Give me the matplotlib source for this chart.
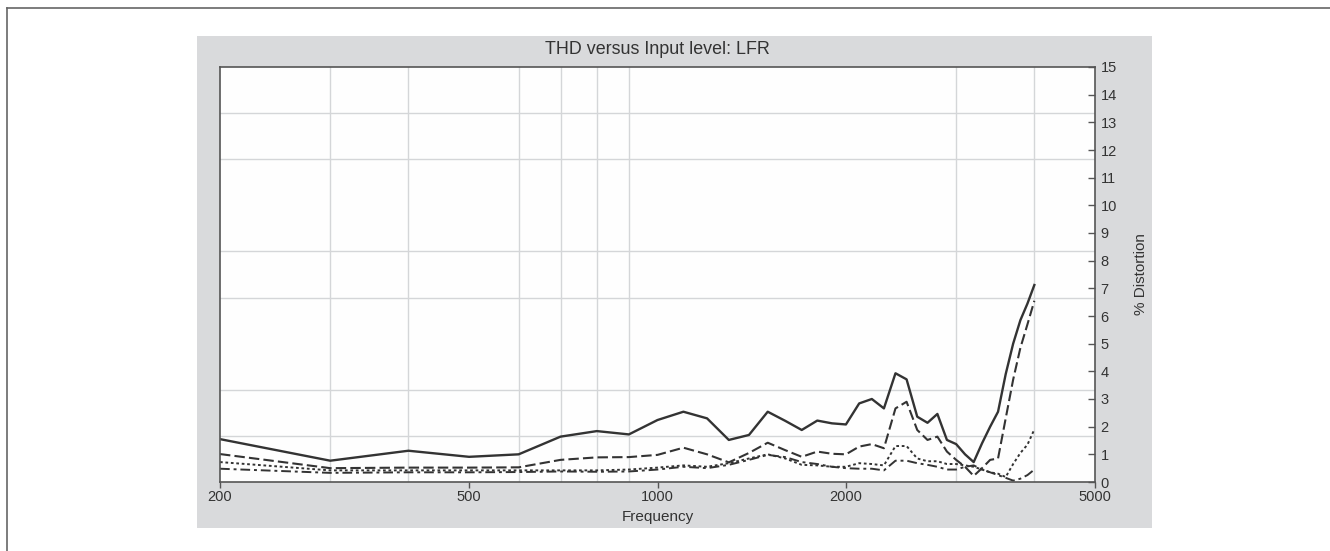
import matplotlib
matplotlib.use("Agg")
import matplotlib.pyplot as plt
import numpy as np
from matplotlib.lines import Line2D
from matplotlib.patches import Rectangle
from matplotlib.ticker import FixedLocator, NullFormatter

plt.rcParams["font.family"] = ["Liberation Sans", "DejaVu Sans"]

# measurement frequencies (Hz), 100 Hz steps from 200 to 4000
freq = list(range(200, 4001, 100))

thd_level1 = [1.55, 0.77, 1.13, 0.91, 1.00, 1.64, 1.84, 1.72, 2.24, 2.54,
              2.30, 1.52, 1.70, 2.54, 2.21, 1.88, 2.22, 2.12, 2.08, 2.84,
              3.00, 2.66, 3.93, 3.71, 2.36, 2.14, 2.46, 1.52, 1.37, 1.00,
              0.72, 1.40, 2.00, 2.54, 3.90, 5.00, 5.85, 6.45, 7.12]
thd_level2 = [1.01, 0.50, 0.52, 0.52, 0.53, 0.80, 0.89, 0.90, 0.98, 1.24,
              1.00, 0.71, 1.05, 1.42, 1.15, 0.91, 1.10, 1.02, 1.00, 1.28,
              1.37, 1.22, 2.66, 2.90, 1.88, 1.52, 1.64, 1.10, 0.80, 0.55,
              0.22, 0.50, 0.80, 0.85, 2.30, 3.70, 4.85, 5.70, 6.55]
thd_level3 = [0.72, 0.42, 0.42, 0.42, 0.42, 0.42, 0.42, 0.45, 0.52, 0.60,
              0.55, 0.68, 0.85, 1.00, 0.85, 0.62, 0.60, 0.55, 0.55, 0.68,
              0.65, 0.60, 1.30, 1.30, 0.85, 0.75, 0.75, 0.65, 0.65, 0.60,
              0.55, 0.45, 0.35, 0.30, 0.18, 0.65, 1.05, 1.35, 1.90]
thd_level4 = [0.48, 0.33, 0.35, 0.35, 0.36, 0.38, 0.37, 0.38, 0.45, 0.55,
              0.50, 0.62, 0.80, 0.98, 0.90, 0.72, 0.65, 0.55, 0.50, 0.48,
              0.48, 0.42, 0.77, 0.77, 0.68, 0.62, 0.55, 0.45, 0.45, 0.55,
              0.60, 0.45, 0.35, 0.25, 0.15, 0.05, 0.12, 0.25, 0.45]

x_major = [200, 500, 1000, 2000, 5000]
x_grid = [300, 400, 500, 600, 700, 800, 900, 1000, 2000, 3000, 4000]
y_ticks = list(range(0, 16))

W, H = 1330, 551
fig = plt.figure(figsize=(W / 100, H / 100), dpi=100)
fig.patch.set_facecolor("white")

# page border (top and left only) and the grey chart panel
fig.add_artist(Line2D([7 / W, 1], [1 - 8 / H, 1 - 8 / H], color="#666666", lw=1.2))
fig.add_artist(Line2D([7 / W, 7 / W], [0, 1 - 8 / H], color="#666666", lw=1.2))
fig.add_artist(Rectangle((197 / W, 1 - 528 / H), (1152 - 197) / W, (528 - 36) / H,
                         facecolor="#d9dadc", edgecolor="none", zorder=0))

ax = fig.add_axes([220 / W, 1 - 482 / H, 875 / W, 415 / H])
ax.set_facecolor("#fefefe")

ink = "#333333"
ax.plot(freq, thd_level1, color=ink, lw=1.7, ls="-")
ax.plot(freq, thd_level2, color=ink, lw=1.5, ls=(0, (5, 2)))
ax.plot(freq, thd_level3, color=ink, lw=1.4, ls=(0, (1.4, 1.4)))
ax.plot(freq, thd_level4, color=ink, lw=1.4, ls=(0, (5, 2, 1.5, 2)))

ax.set_xscale("log")
ax.set_xlim(200, 5000)
ax.set_ylim(0, 15)

ax.xaxis.set_major_locator(FixedLocator(x_major))
ax.set_xticklabels([str(v) for v in x_major])
ax.xaxis.set_minor_locator(FixedLocator(x_grid))
ax.xaxis.set_minor_formatter(NullFormatter())
ax.tick_params(axis="x", which="major", direction="out", length=4, width=1,
               color="#555555", labelsize=10.5, labelcolor=ink, pad=2)
ax.tick_params(axis="x", which="minor", length=0)

ax.yaxis.tick_right()
ax.yaxis.set_label_position("right")
ax.set_yticks(y_ticks)
ax.yaxis.set_minor_locator(FixedLocator(np.linspace(0, 15, 10)))
ax.tick_params(axis="y", which="major", direction="in", length=5, width=1,
               color="#555555", labelsize=10.5, labelcolor=ink, pad=4)
ax.tick_params(axis="y", which="minor", length=0)

ax.grid(which="minor", color="#d4d6d8", lw=1)
ax.grid(which="major", visible=False)
ax.set_axisbelow(True)

for side in ax.spines.values():
    side.set_color("#555555")
    side.set_linewidth(1.2)

ax.set_xlabel("Frequency", fontsize=11, color=ink, labelpad=4)
ax.set_ylabel("% Distortion", fontsize=11, color=ink, labelpad=12)
fig.text(657.5 / W, 1 - 50 / H, "THD versus Input level: LFR", ha="center",
         va="center", fontsize=12.9, color=ink)

fig.savefig("out.png", dpi=100)
